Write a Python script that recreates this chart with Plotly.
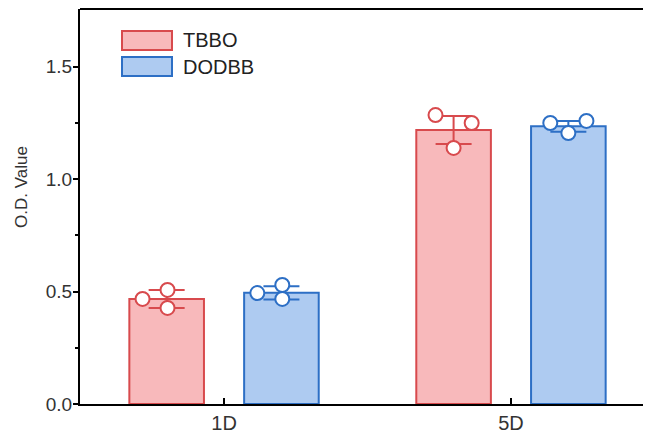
import plotly.graph_objects as go

categories = ["1D", "5D"]
series = ["TBBO", "DODBB"]
tbbo_mean = [0.467, 1.218]
tbbo_sd = [0.040, 0.062]
dodbb_mean = [0.494, 1.234]
dodbb_sd = [0.029, 0.024]
tbbo_points = [[0.467, 0.507, 0.427], [1.284, 1.249, 1.138]]
dodbb_points = [[0.493, 0.529, 0.467], [1.249, 1.258, 1.204]]
jitter = [[-0.084, 0.003, 0.003], [-0.063, 0.063, 0.0]]

fills = ["#F8B9BB", "#AECBF1"]
edges = ["#D84A4D", "#2D6FC5"]
offsets = [-0.2, 0.2]
bar_w = 0.26

fig = go.Figure()
means = [tbbo_mean, dodbb_mean]
sds = [tbbo_sd, dodbb_sd]
pts = [tbbo_points, dodbb_points]
for s in range(2):
    xs = [i + offsets[s] for i in range(len(categories))]
    fig.add_trace(go.Bar(
        x=xs, y=means[s], width=bar_w, name=series[s],
        marker=dict(color=fills[s], line=dict(color=edges[s], width=2)),
        showlegend=False,
    ))
    fig.add_trace(go.Scatter(
        x=xs, y=means[s], mode="markers", marker=dict(size=1, opacity=0),
        error_y=dict(type="data", array=sds[s], color=edges[s], thickness=2, width=18),
        showlegend=False, hoverinfo="skip",
    ))
    px, py = [], []
    for i in range(len(categories)):
        for j, v in enumerate(pts[s][i]):
            px.append(i + offsets[s] + jitter[i][j])
            py.append(v)
    fig.add_trace(go.Scatter(
        x=px, y=py, mode="markers",
        marker=dict(size=14, color="white", line=dict(color=edges[s], width=2)),
        showlegend=False,
    ))

# manual legend (plot area: 571 x 395 px)
PW, PH = 571, 395
shapes = []
annotations = []
for s in range(2):
    y0 = 31 + s * 26
    shapes.append(dict(type="rect", xref="paper", yref="paper",
                       x0=(122 - 80) / PW, x1=(172 - 80) / PW,
                       y0=1 - (y0 + 19 - 9) / PH, y1=1 - (y0 - 9) / PH,
                       fillcolor=fills[s], line=dict(color=edges[s], width=2)))
    annotations.append(dict(xref="paper", yref="paper", x=(181 - 80) / PW,
                            y=1 - (y0 + 9.5 - 9) / PH, text=series[s], showarrow=False,
                            xanchor="left", yanchor="middle",
                            font=dict(size=20, color="#222")))
annotations.append(dict(xref="paper", yref="paper", x=(22 - 80) / PW, y=1 - (187 - 9) / PH,
                        text="O.D. Value", textangle=-90, showarrow=False,
                        xanchor="center", yanchor="middle",
                        font=dict(size=17, color="#333")))
shapes.append(dict(type="line", xref="paper", yref="paper", x0=0, x1=1.01, y0=1, y1=1,
                   line=dict(color="black", width=2)))

fig.update_layout(
    width=643, height=433,
    margin=dict(l=72, r=0, t=1, b=37, autoexpand=False),
    plot_bgcolor="white", paper_bgcolor="white",
    font=dict(family="Liberation Sans, Arial, sans-serif", size=19, color="#333"),
    shapes=shapes, annotations=annotations,
    xaxis=dict(range=[-0.502, 1.488], tickmode="array", tickvals=[0, 1], ticktext=categories,
               tickfont=dict(size=20),
               showline=True, linecolor="black", linewidth=2, ticks="inside", ticklen=6,
               tickcolor="black", tickwidth=1.5, showgrid=False, zeroline=False, automargin=False),
    yaxis=dict(range=[0, 1.7556], tickvals=[0, 0.5, 1.0, 1.5], ticktext=["0.0", "0.5", "1.0", "1.5"],
               tickfont=dict(size=19), ticklabelstandoff=-3,
               showline=True, linecolor="black", linewidth=2, ticks="outside", ticklen=5,
               tickcolor="black", tickwidth=2, showgrid=False, zeroline=False, automargin=False,
               minor=dict(tickvals=[0.25, 0.75, 1.25], ticks="outside", ticklen=3, tickcolor="black", tickwidth=1.5)),
)

fig.write_html("out.html")
